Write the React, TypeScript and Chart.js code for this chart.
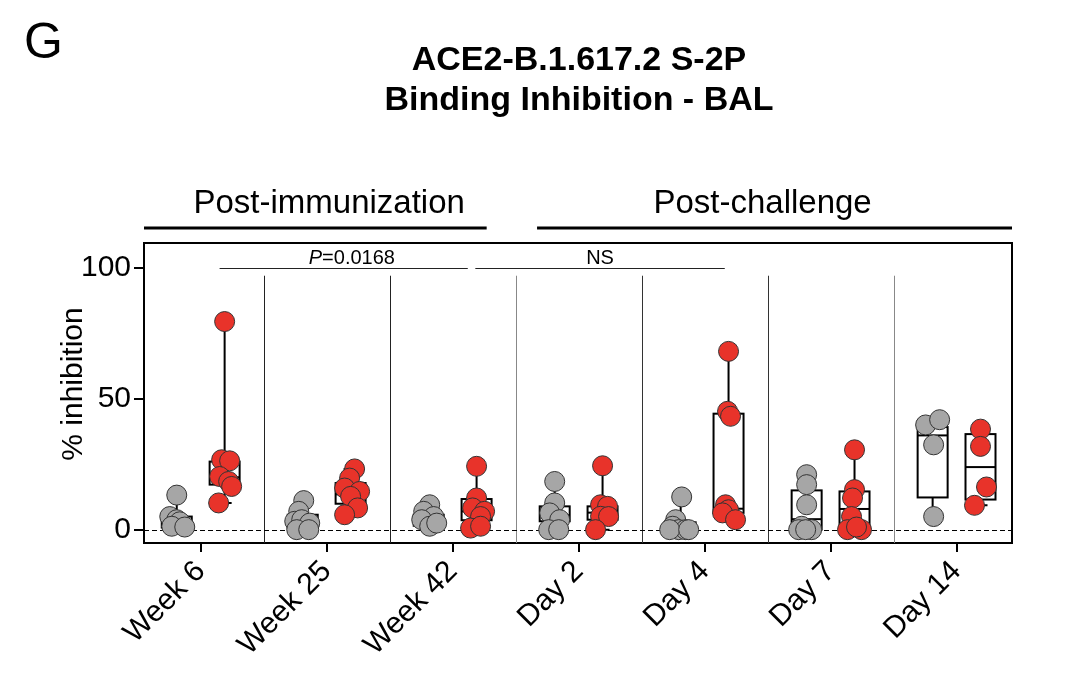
import { useEffect, useRef } from 'react';
import { Chart, registerables } from 'chart.js';

Chart.register(...registerables);

const FONT = "'Liberation Sans', Arial, sans-serif";

const categories = ['Week 6', 'Week 25', 'Week 42', 'Day 2', 'Day 4', 'Day 7', 'Day 14'];
const yTicks = [0, 50, 100];

// % inhibition per animal, grey group (left of each timepoint)
const greyValues = [
  [13.2, 5.0, 3.8, 3.0, 1.3, 1.0],
  [11.1, 7.0, 3.2, 3.8, 2.5, 0, 0],
  [9.5, 7.0, 5.0, 3.8, 1.3, 2.5],
  [18.4, 10.2, 6.4, 3.8, 0, 0],
  [12.5, 3.8, 1.3, 0, 0, 0, 0],
  [21.0, 17.2, 9.5, 1.3, 0, 0, 0],
  [40.0, 42.0, 32.4, 5.0],
];
// red group (right of each timepoint)
const redValues = [
  [79.5, 26.7, 26.3, 20.3, 18.4, 16.5, 10.2],
  [23.2, 19.7, 15.9, 14.6, 12.7, 8.3, 5.7],
  [24.2, 12.1, 8.3, 7.0, 5.0, 0.6, 1.3],
  [24.4, 9.5, 8.9, 5.1, 5.0, 0],
  [68.1, 45.2, 43.3, 9.5, 7.6, 6.4, 3.8],
  [30.5, 15.3, 12.1, 5.0, 0, 0, 1.0],
  [38.4, 31.8, 16.3, 9.3],
];

// horizontal scatter of each dot, in px
const greyJitter = [
  [0, -7, 0, 3, -5, 8],
  [1, -4, -8, -1, 7, -6, 6],
  [1, -5, 5, -7, 1, 8],
  [0, 0, -5, 5, -6, 4],
  [1, -5, -8, -2, 5, -11, 8],
  [0, 0, 0, -5, 5, -8, -1],
  [-7, 7, 1, 1],
];
const redJitter = [
  [0, -3, 5, -5, 4, 7, -6],
  [4, -1, -6, 9, 0, 7, -6],
  [0, 0, -4, 8, 4, -6, 4],
  [0, -2, 5, -2, 6, -7],
  [0, -1, 2, -3, 0, -6, 7],
  [0, 0, -2, -3, -7, 7, 2],
  [0, 0, 6, -6],
];

// box stats: [min, q1, median, q3, max]
const greyBoxes = [
  [0.5, 0.8, 2.5, 5.0, 13.2],
  [0, 0.5, 2.8, 5.7, 11.1],
  [1.3, 1.5, 3.5, 5.7, 9.5],
  [0, 3.2, 5.5, 8.9, 18.4],
  [0, 0, 0.5, 2.8, 12.5],
  [0, 0, 4.0, 15.0, 21.0],
  [5.0, 12.3, 36.0, 39.2, 42.0],
];
const redBoxes = [
  [10.2, 17.2, 20.0, 26.0, 79.5],
  [5.7, 9.9, 13.5, 17.8, 23.2],
  [0.6, 3.6, 7.0, 11.7, 24.2],
  [0, 3.8, 6.5, 8.9, 24.4],
  [3.8, 6.4, 8.0, 44.3, 68.1],
  [0, 0, 7.9, 14.6, 30.5],
  [9.3, 11.5, 23.9, 36.5, 38.4],
];

const GREY_OFFSET = -0.19;
const RED_OFFSET = 0.19;
const PX_PER_CAT = 126;

const toPoints = (values: number[][], jitter: number[][], offset: number) =>
  values.flatMap((vals, i) =>
    vals.map((v, j) => ({ x: i + offset + (jitter[i][j] ?? 0) / PX_PER_CAT, y: v }))
  );

const boxPlugin = {
  id: 'boxes',
  beforeDatasetsDraw(chart: any) {
    const { ctx, chartArea, scales } = chart;
    const x = scales.x;
    const y = scales.y;
    ctx.save();

    // timepoint separators
    const sepColors = ['#222', '#222', '#888', '#333', '#333', '#888'];
    for (let i = 0; i < categories.length - 1; i++) {
      const px = Math.round(x.getPixelForValue(i + 0.5)) + 0.5;
      ctx.strokeStyle = sepColors[i];
      ctx.lineWidth = 1;
      ctx.beginPath();
      ctx.moveTo(px, y.getPixelForValue(97));
      ctx.lineTo(px, chartArea.bottom);
      ctx.stroke();
    }

    // dashed zero line
    const y0 = Math.round(y.getPixelForValue(0)) + 0.5;
    ctx.strokeStyle = '#000';
    ctx.setLineDash([5, 3]);
    ctx.beginPath();
    ctx.moveTo(chartArea.left, y0);
    ctx.lineTo(chartArea.right, y0);
    ctx.stroke();
    ctx.setLineDash([]);

    const drawBox = (b: number[], xv: number) => {
      const cx = x.getPixelForValue(xv);
      const half = 15;
      const [mn, q1, md, q3, mx] = b.map((v) => y.getPixelForValue(v));
      ctx.strokeStyle = '#000';
      ctx.lineWidth = 2;
      ctx.beginPath();
      ctx.moveTo(cx, q3);
      ctx.lineTo(cx, mx);
      ctx.moveTo(cx - 7, mx);
      ctx.lineTo(cx + 7, mx);
      ctx.moveTo(cx, q1);
      ctx.lineTo(cx, mn);
      ctx.moveTo(cx - 7, mn);
      ctx.lineTo(cx + 7, mn);
      ctx.stroke();
      ctx.strokeRect(cx - half, q3, half * 2, q1 - q3);
      ctx.beginPath();
      ctx.moveTo(cx - half, md);
      ctx.lineTo(cx + half, md);
      ctx.stroke();
    };
    greyBoxes.forEach((b, i) => drawBox(b, i + GREY_OFFSET));
    redBoxes.forEach((b, i) => drawBox(b, i + RED_OFFSET));
    ctx.restore();
  },
  afterDraw(chart: any) {
    const { ctx, chartArea, scales } = chart;
    const x = scales.x;
    const y = scales.y;
    ctx.save();

    // top and right frame
    ctx.strokeStyle = '#000';
    ctx.lineWidth = 2;
    ctx.beginPath();
    ctx.moveTo(chartArea.left, chartArea.top);
    ctx.lineTo(chartArea.right, chartArea.top);
    ctx.lineTo(chartArea.right, chartArea.bottom);
    ctx.stroke();

    ctx.fillStyle = '#000';
    ctx.textBaseline = 'alphabetic';

    // panel letter
    ctx.textAlign = 'left';
    ctx.font = `50px ${FONT}`;
    ctx.fillText('G', 24, 58);

    // title
    ctx.textAlign = 'center';
    ctx.font = `bold 34px ${FONT}`;
    ctx.fillText('ACE2-B.1.617.2 S-2P', 579, 70);
    ctx.fillText('Binding Inhibition - BAL', 579, 110);

    // section headers
    const barY = chartArea.top - 15;
    ctx.font = `33px ${FONT}`;
    ctx.fillText('Post-immunization', x.getPixelForValue(1.02), 213);
    ctx.fillText('Post-challenge', x.getPixelForValue(4.46), 213);
    ctx.lineWidth = 3;
    ctx.beginPath();
    ctx.moveTo(x.getPixelForValue(-0.45), barY);
    ctx.lineTo(x.getPixelForValue(2.27), barY);
    ctx.moveTo(x.getPixelForValue(2.67), barY);
    ctx.lineTo(x.getPixelForValue(6.44), barY);
    ctx.stroke();

    // significance bars
    const sigY = Math.round(y.getPixelForValue(100)) + 0.5;
    ctx.strokeStyle = '#222';
    ctx.lineWidth = 1.2;
    ctx.beginPath();
    ctx.moveTo(x.getPixelForValue(0.15), sigY);
    ctx.lineTo(x.getPixelForValue(2.12), sigY);
    ctx.moveTo(x.getPixelForValue(2.18), sigY);
    ctx.lineTo(x.getPixelForValue(4.16), sigY);
    ctx.stroke();

    ctx.font = `italic 20px ${FONT}`;
    const pW = ctx.measureText('P').width;
    ctx.font = `20px ${FONT}`;
    const restW = ctx.measureText('=0.0168').width;
    const pCenter = x.getPixelForValue(1.2);
    const start = pCenter - (pW + restW) / 2;
    ctx.textAlign = 'left';
    ctx.font = `italic 20px ${FONT}`;
    ctx.fillText('P', start, sigY - 5);
    ctx.font = `20px ${FONT}`;
    ctx.fillText('=0.0168', start + pW, sigY - 5);
    ctx.textAlign = 'center';
    ctx.fillText('NS', x.getPixelForValue(3.17), sigY - 5);

    // y-axis title
    ctx.translate(82, 384);
    ctx.rotate(-Math.PI / 2);
    ctx.font = `30px ${FONT}`;
    ctx.fillText('% inhibition', 0, 0);
    ctx.restore();
  },
};

export default function App() {
  const canvasRef = useRef<HTMLCanvasElement>(null);
  const chartRef = useRef<Chart | null>(null);

  useEffect(() => {
    if (!canvasRef.current) return;
    if (chartRef.current) { chartRef.current.destroy(); chartRef.current = null; }

    chartRef.current = new Chart(canvasRef.current, {
      type: 'scatter',
      data: {
        datasets: [
          {
            label: 'grey',
            data: toPoints(greyValues, greyJitter, GREY_OFFSET),
            backgroundColor: '#a6a6a6',
            borderColor: '#333',
            borderWidth: 1,
            pointRadius: 10,
            pointHoverRadius: 10,
          },
          {
            label: 'red',
            data: toPoints(redValues, redJitter, RED_OFFSET),
            backgroundColor: '#e8332a',
            borderColor: '#333',
            borderWidth: 1,
            pointRadius: 10,
            pointHoverRadius: 10,
          },
        ],
      },
      options: {
        animation: false,
        responsive: false,
        devicePixelRatio: 1,
        layout: { padding: { top: 243, right: 68, left: 0, bottom: 0 } },
        plugins: {
          legend: { display: false },
          tooltip: { enabled: false },
        },
        scales: {
          x: {
            type: 'linear',
            min: -0.45,
            max: 6.44,
            afterBuildTicks: (s: any) => { s.ticks = categories.map((_, i) => ({ value: i })); },
            afterFit: (s: any) => { s.height = 141; },
            ticks: {
              callback: (v: any) => categories[v as number] ?? '',
              minRotation: 45,
              maxRotation: 45,
              autoSkip: false,
              color: '#000',
              padding: 2,
              font: { size: 30, family: FONT },
            },
            grid: { drawOnChartArea: false, drawTicks: true, tickLength: 9, color: '#000', lineWidth: 2 },
            border: { display: true, color: '#000', width: 2 },
          },
          y: {
            min: -5.1,
            max: 109.5,
            afterBuildTicks: (s: any) => { s.ticks = yTicks.map((v) => ({ value: v })); },
            afterFit: (s: any) => { s.width = 144; },
            ticks: { color: '#000', padding: 3, font: { size: 30, family: FONT } },
            grid: { drawOnChartArea: false, drawTicks: true, tickLength: 10, color: '#000', lineWidth: 2 },
            border: { display: true, color: '#000', width: 2 },
          },
        },
      },
      plugins: [boxPlugin],
    });

    return () => { chartRef.current?.destroy(); chartRef.current = null; };
  }, []);

  return (
    <div style={{ position: 'absolute', left: 0, top: 0, width: 1080, height: 684, background: '#fff' }}>
      <canvas ref={canvasRef} width={1080} height={684} role="img" aria-label="Box plot of % inhibition" />
    </div>
  );
}
